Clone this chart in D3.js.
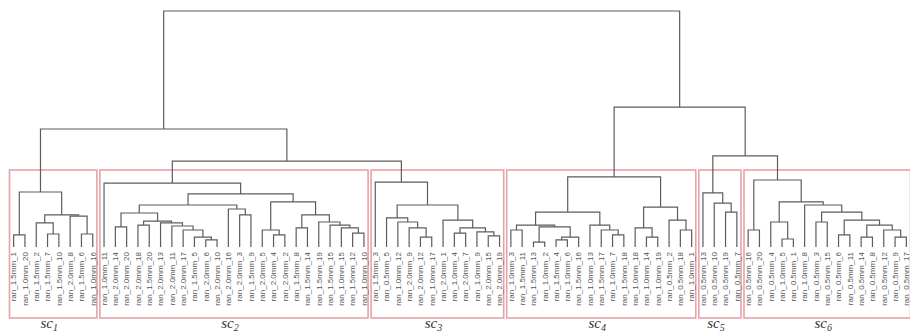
<!DOCTYPE html>
<html>
<head>
<meta charset="utf-8">
<script src="https://cdn.jsdelivr.net/npm/d3@7"></script>
<style>
  body { margin: 0; background: #fff; }
  svg { display: block; }
</style>
</head>
<body>
<svg id="chart"></svg>
<script>
// leaf labels of each sub-cluster, left to right
const sc1Labels = ['ran_1.5mm_1', 'ran_1.0mm_20', 'ran_1.5mm_2', 'ran_1.5mm_7', 'ran_1.5mm_10', 'ran_2.0mm_8', 'ran_1.5mm_6', 'ran_1.0mm_16']
const sc2Labels = ['ran_1.0mm_11', 'ran_2.0mm_14', 'ran_2.0mm_20', 'ran_2.0mm_18', 'ran_1.5mm_20', 'ran_2.0mm_13', 'ran_2.0mm_11', 'ran_2.0mm_17',
    'ran_1.5mm_5', 'ran_2.0mm_6', 'ran_2.0mm_10', 'ran_2.0mm_16', 'ran_2.0mm_3', 'ran_1.5mm_9', 'ran_2.0mm_5', 'ran_2.0mm_4',
    'ran_2.0mm_2', 'ran_1.5mm_8', 'ran_1.5mm_14', 'ran_1.5mm_19', 'ran_1.5mm_15', 'ran_1.0mm_15', 'ran_1.5mm_12', 'ran_1.0mm_10']
const sc3Labels = ['ran_1.5mm_3', 'ran_0.5mm_5', 'ran_1.0mm_12', 'ran_2.0mm_9', 'ran_2.0mm_12', 'ran_1.0mm_17', 'ran_2.0mm_1', 'ran_1.0mm_4',
    'ran_2.0mm_7', 'ran_1.0mm_9', 'ran_2.0mm_15', 'ran_2.0mm_19']
const sc4Labels = ['ran_1.0mm_3', 'ran_1.5mm_11', 'ran_1.5mm_13', 'ran_1.0mm_2', 'ran_1.5mm_4', 'ran_1.0mm_6', 'ran_1.5mm_16', 'ran_1.0mm_13',
    'ran_1.5mm_17', 'ran_1.0mm_7', 'ran_1.5mm_18', 'ran_1.0mm_18', 'ran_1.0mm_14', 'ran_1.0mm_19', 'ran_0.5mm_2', 'ran_0.5mm_18', 'ran_1.0mm_1']
const sc5Labels = ['ran_0.5mm_13', 'ran_0.5mm_10', 'ran_0.5mm_19', 'ran_0.5mm_7']
const sc6Labels = ['ran_0.5mm_16', 'ran_0.5mm_20', 'ran_0.5mm_4', 'ran_1.0mm_5', 'ran_0.5mm_1', 'ran_1.0mm_8', 'ran_0.5mm_3', 'ran_0.5mm_15',
    'ran_0.5mm_6', 'ran_0.5mm_11', 'ran_0.5mm_14', 'ran_0.5mm_8', 'ran_0.5mm_12', 'ran_0.5mm_9', 'ran_0.5mm_17']

// merges inside each sub-cluster: [distance, left, right], a bare integer is a leaf index
const sc1Tree = [2.33, [0.51, 0, 1], [1.36, [1.02, 2, [0.55, 3, 4]], [1.31, 5, [0.55, 6, 7]]]]
const sc2Tree = [2.71, 0, [2.25,
    [1.78,
        [1.44, [0.85, 1, 2], [1.10, [0.93, 3, 4], [1.02, 5, [0.89, 6, [0.72, 7, [0.42, 8, [0.30, 9, 10]]]]]]],
        [1.61, 11, [1.36, 12, 13]]],
    [1.91,
        [0.72, 14, [0.51, 15, 16]],
        [1.36, [0.81, 17, 18], [1.06, 19, [0.93, 20, [0.81, 21, [0.59, 22, 23]]]]]]]]
const sc3Tree = [2.75, 0, [1.78,
    [1.23, 1, [1.06, 2, [0.81, 3, [0.42, 4, 5]]]],
    [1.14, 6, [0.81, [0.59, 7, 8], [0.64, 9, [0.47, 10, 11]]]]]]
const sc4Tree = [2.97,
    [1.48, [0.93, [0.72, 0, 1], [0.85, [0.21, 2, 3], [0.42, [0.30, 4, 5], 6]]], [0.93, 7, [0.72, 8, [0.51, 9, 10]]]],
    [1.69, [0.81, 11, [0.42, 12, 13]], [1.14, 14, [0.72, 15, 16]]]]
const sc5Tree = [2.29, 0, [1.86, 1, [1.48, 2, 3]]]
const sc6Tree = [2.84, [0.72, 0, 1], [1.91,
    [1.06, 2, [0.34, 3, 4]],
    [1.78, 5, [1.48, [1.06, 6, 7], [1.14, [0.51, 8, 9], [0.93, [0.42, 10, 11], [0.72, 12, [0.42, 13, 14]]]]]]]]

// how the sub-clusters join at the top
const topTree = [10.0, [5.0, 'sc1', [3.64, 'sc2', 'sc3']], [5.93, 'sc4', [3.86, 'sc5', 'sc6']]]
const clusterNames = ['sc1', 'sc2', 'sc3', 'sc4', 'sc5', 'sc6']

const clusters = {
    sc1: {labels: sc1Labels, tree: sc1Tree},
    sc2: {labels: sc2Labels, tree: sc2Tree},
    sc3: {labels: sc3Labels, tree: sc3Tree},
    sc4: {labels: sc4Labels, tree: sc4Tree},
    sc5: {labels: sc5Labels, tree: sc5Tree},
    sc6: {labels: sc6Labels, tree: sc6Tree}
}

const width = 910
const height = 336

function buildCluster(node, labels) {
    if (typeof node === 'number') return {name: labels[node], dist: 0}
    return {dist: node[0], children: [buildCluster(node[1], labels), buildCluster(node[2], labels)]}
}

function buildTop(node) {
    if (typeof node === 'string') {
        const c = buildCluster(clusters[node].tree, clusters[node].labels)
        c.cluster = node
        return c
    }
    return {dist: node[0], children: [buildTop(node[1]), buildTop(node[2])]}
}

const root = d3.hierarchy(buildTop(topTree))
const leaves = root.leaves()

const xRange = d3.scalePoint()
    .domain(leaves.map(d => d.data.name))
    .range([8, 912])
    .padding(0.5)
const step = xRange.step()

const yRange = d3.scaleLinear()
    .domain([0, 10])
    .range([247, 11])

// scipy style: a merge sits midway between its two children
root.eachAfter(n => {
    n.x = n.children ? d3.mean(n.children, c => c.x) : xRange(n.data.name)
    n.y = yRange(n.data.dist)
})

const svg = d3.select('#chart')
    .attr('width', width)
    .attr('height', height)

// sub-cluster boxes
const clusterNodes = clusterNames.map(name => root.descendants().find(n => n.data.cluster === name))

svg.append('g')
    .selectAll('rect')
    .data(clusterNodes)
    .join('rect')
    .attr('x', d => xRange(d.leaves()[0].data.name) - step / 2 + 1.5)
    .attr('y', 170)
    .attr('width', d => d.leaves().length * step - 3)
    .attr('height', 148)
    .attr('fill', 'none')
    .attr('stroke', '#e6a3a6')
    .attr('stroke-width', 1.6)

// dendrogram links
svg.append('g')
    .selectAll('path')
    .data(root.descendants().filter(n => n.children))
    .join('path')
    .attr('d', n => {
        const [a, b] = n.children
        return `M${a.x},${a.y}V${n.y}H${b.x}V${b.y}`
    })
    .attr('fill', 'none')
    .attr('stroke', '#5c5c5c')
    .attr('stroke-width', 1.2)

// leaf labels
svg.append('g')
    .selectAll('text')
    .data(leaves)
    .join('text')
    .attr('transform', d => `translate(${d.x},252) rotate(-90)`)
    .attr('dy', '0.35em')
    .attr('text-anchor', 'end')
    .style('font-family', '"Liberation Sans", Arial, sans-serif')
    .style('font-size', '8px')
    .attr('fill', '#555')
    .text(d => d.data.name)

// sub-cluster names
const names = svg.append('g')
    .selectAll('text')
    .data(clusterNodes)
    .join('text')
    .attr('x', d => {
        const l = d.leaves()
        return (xRange(l[0].data.name) + xRange(l[l.length - 1].data.name)) / 2 - 4
    })
    .attr('y', 328)
    .attr('text-anchor', 'middle')
    .style('font-family', '"Liberation Serif", "DejaVu Serif", serif')
    .style('font-style', 'italic')
    .style('font-size', '15px')
    .attr('fill', '#333')
    .text('sc')

names.append('tspan')
    .attr('dy', 3)
    .style('font-size', '10px')
    .text(d => d.data.cluster.slice(2))
</script>
</body>
</html>
